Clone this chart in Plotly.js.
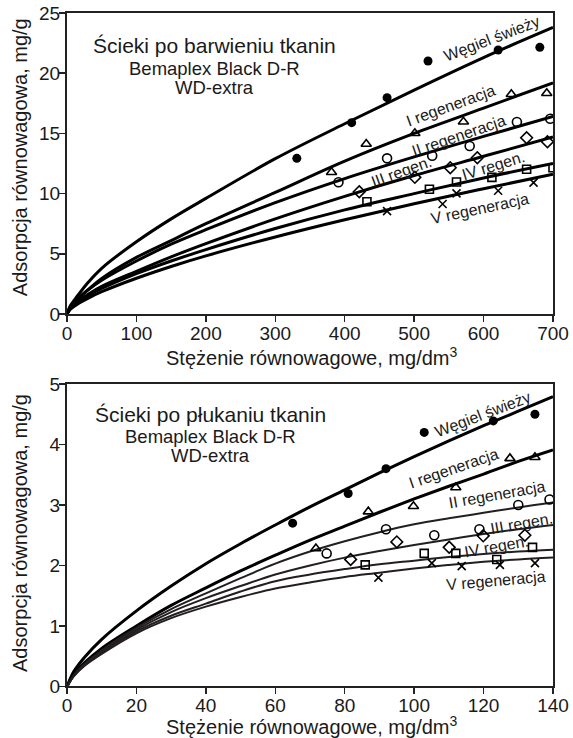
<!DOCTYPE html>
<html>
<head>
<meta charset="utf-8">
<script src="https://cdn.plot.ly/plotly-3.0.1.min.js"></script>
<style>html,body{margin:0;padding:0;background:#fff;}#chart{width:573px;height:738px;}</style>
</head>
<body>
<div id="chart"></div>
<script>
// ---------- Top chart: Ścieki po barwieniu tkanin ----------
const topCurveX = [0, 5, 15, 30, 50, 100, 150, 200, 300, 400, 500, 600, 700];
const topFreshCurve = [0, 0.7, 1.5, 2.6, 3.8, 6.0, 7.9, 9.6, 12.9, 15.8, 18.6, 21.3, 23.8];
const topReg1Curve  = [0, 0.55, 1.2, 2.0, 2.95, 4.7, 6.1, 7.5, 10.1, 12.7, 15.0, 17.1, 19.2];
const topReg2Curve  = [0, 0.6, 1.24, 1.98, 2.8, 4.4, 5.8, 7.0, 9.25, 11.25, 13.05, 14.75, 16.4];
const topReg3Curve  = [0, 0.5, 1.02, 1.62, 2.3, 3.55, 4.75, 5.85, 7.9, 9.77, 11.5, 13.1, 14.7];
const topReg4Curve  = [0, 0.48, 0.98, 1.52, 2.12, 3.35, 4.4, 5.35, 7.1, 8.65, 10.0, 11.3, 12.5];
const topReg5Curve  = [0, 0.4, 0.82, 1.3, 1.85, 2.97, 3.95, 4.83, 6.4, 7.83, 9.16, 10.41, 11.6];

const topFreshX = [331, 410, 461, 520, 621, 681];
const topFreshY = [12.93, 15.89, 17.97, 21.01, 21.93, 22.15];
const topReg1X = [381, 431, 501, 571, 640, 691];
const topReg1Y = [11.77, 14.12, 15.01, 15.97, 18.25, 18.33];
const topReg2X = [391, 461, 526, 580, 648, 696];
const topReg2Y = [10.94, 12.93, 13.15, 13.95, 15.95, 16.22];
const topReg3X = [421, 501, 552, 591, 662, 692];
const topReg3Y = [10.16, 11.35, 12.15, 12.98, 14.64, 14.31];
const topReg4X = [432, 522, 561, 612, 662, 700];
const topReg4Y = [9.33, 10.36, 10.96, 11.35, 12.02, 12.15];
const topReg5X = [461, 541, 561, 621, 672];
const topReg5Y = [8.55, 9.14, 10.02, 10.24, 10.91];

// ---------- Bottom chart: Ścieki po płukaniu tkanin ----------
const botCurveX = [0, 2, 5, 10, 20, 30, 40, 50, 60, 70, 80, 90, 100, 110, 120, 130, 140];
const botFreshCurve = [0, 0.25, 0.48, 0.78, 1.25, 1.66, 2.03, 2.36, 2.67, 2.97, 3.25, 3.53, 3.80, 4.06, 4.31, 4.55, 4.79];
const botReg1Curve  = [0, 0.2, 0.39, 0.63, 1.0, 1.34, 1.63, 1.91, 2.17, 2.42, 2.65, 2.88, 3.10, 3.31, 3.51, 3.72, 3.91];
const botReg2Curve  = [0, 0.19, 0.37, 0.6, 0.97, 1.28, 1.54, 1.79, 2.03, 2.23, 2.40, 2.55, 2.68, 2.78, 2.87, 2.96, 3.04];
const botReg3Curve  = [0, 0.18, 0.36, 0.58, 0.94, 1.23, 1.46, 1.66, 1.85, 2.0, 2.13, 2.24, 2.34, 2.43, 2.52, 2.60, 2.67];
const botReg4Curve  = [0, 0.18, 0.35, 0.56, 0.91, 1.17, 1.37, 1.57, 1.74, 1.85, 1.94, 2.02, 2.08, 2.14, 2.19, 2.23, 2.26];
const botReg5Curve  = [0, 0.17, 0.34, 0.54, 0.88, 1.13, 1.32, 1.48, 1.62, 1.72, 1.81, 1.88, 1.95, 2.01, 2.06, 2.10, 2.13];

const botFreshX = [65.0, 81.0, 91.9, 102.9, 122.8, 134.8];
const botFreshY = [2.70, 3.19, 3.60, 4.20, 4.39, 4.50];
const botReg1X = [71.7, 86.8, 99.8, 112.0, 127.6, 134.8];
const botReg1Y = [2.28, 2.89, 2.98, 3.29, 3.77, 3.79];
const botReg2X = [74.8, 91.9, 105.8, 118.8, 130.0, 139.0];
const botReg2Y = [2.20, 2.60, 2.50, 2.60, 3.00, 3.09];
const botReg3X = [81.7, 95.0, 110.1, 119.9, 131.9];
const botReg3Y = [2.10, 2.39, 2.30, 2.49, 2.50];
const botReg4X = [85.9, 102.9, 112.0, 123.8, 134.1];
const botReg4Y = [2.01, 2.20, 2.20, 2.10, 2.30];
const botReg5X = [89.7, 105.1, 113.7, 124.7, 134.8];
const botReg5Y = [1.80, 2.04, 1.99, 2.01, 2.04];

const curveLabels = ['Węgiel świeży', 'I regeneracja', 'II regeneracja', 'III regen.', 'IV regen.', 'V regeneracja'];
const topTitleLines = ['Ścieki po barwieniu tkanin', 'Bemaplex Black D-R', 'WD-extra'];
const botTitleLines = ['Ścieki po płukaniu tkanin', 'Bemaplex Black D-R', 'WD-extra'];
const xTitle = 'Stężenie równowagowe, mg/dm<sup>3</sup>';
const yTitle = 'Adsorpcja równowagowa, mg/g';

const FONT = 'Liberation Sans, Arial, Helvetica, sans-serif';
const INK = '#1a1a1a';

function curve(x, y, xa, ya, w, color) {
  return {x: x, y: y, xaxis: xa, yaxis: ya, type: 'scatter', mode: 'lines',
    line: {color: color || '#000', width: w, shape: 'spline', smoothing: 1}, hoverinfo: 'skip'};
}
function pts(x, y, xa, ya, sym, size, filled) {
  return {x: x, y: y, xaxis: xa, yaxis: ya, type: 'scatter', mode: 'markers',
    marker: {symbol: sym, size: size, color: '#000',
      line: {color: '#000', width: filled ? 0 : 1.6}}, hoverinfo: 'skip'};
}

const data = [
  curve(topCurveX, topFreshCurve, 'x', 'y', 3),
  curve(topCurveX, topReg1Curve, 'x', 'y', 3),
  curve(topCurveX, topReg2Curve, 'x', 'y', 3),
  curve(topCurveX, topReg3Curve, 'x', 'y', 3),
  curve(topCurveX, topReg4Curve, 'x', 'y', 3),
  curve(topCurveX, topReg5Curve, 'x', 'y', 3),
  pts(topFreshX, topFreshY, 'x', 'y', 'circle', 9, true),
  pts(topReg1X, topReg1Y, 'x', 'y', 'triangle-up-open', 9, false),
  pts(topReg2X, topReg2Y, 'x', 'y', 'circle-open', 9, false),
  pts(topReg3X, topReg3Y, 'x', 'y', 'diamond-open', 9, false),
  pts(topReg4X, topReg4Y, 'x', 'y', 'square-open', 8, false),
  pts(topReg5X, topReg5Y, 'x', 'y', 'x-thin-open', 8, false),

  curve(botCurveX, botFreshCurve, 'x2', 'y2', 3),
  curve(botCurveX, botReg1Curve, 'x2', 'y2', 3),
  curve(botCurveX, botReg2Curve, 'x2', 'y2', 2, '#231f20'),
  curve(botCurveX, botReg3Curve, 'x2', 'y2', 2, '#231f20'),
  curve(botCurveX, botReg4Curve, 'x2', 'y2', 2, '#231f20'),
  curve(botCurveX, botReg5Curve, 'x2', 'y2', 2, '#231f20'),
  pts(botFreshX, botFreshY, 'x2', 'y2', 'circle', 9, true),
  pts(botReg1X, botReg1Y, 'x2', 'y2', 'triangle-up-open', 9, false),
  pts(botReg2X, botReg2Y, 'x2', 'y2', 'circle-open', 9, false),
  pts(botReg3X, botReg3Y, 'x2', 'y2', 'diamond-open', 9, false),
  pts(botReg4X, botReg4Y, 'x2', 'y2', 'square-open', 8, false),
  pts(botReg5X, botReg5Y, 'x2', 'y2', 'x-thin-open', 8, false)
];

function axisBase(extra) {
  return Object.assign({
    showline: true, mirror: true, linecolor: '#222', linewidth: 2,
    ticks: 'outside', ticklen: 6, tickwidth: 1.5, tickcolor: '#222',
    ticklabelstandoff: -5,
    showgrid: false, zeroline: false, fixedrange: true,
    tickfont: {family: FONT, size: 19, color: INK}
  }, extra);
}

// label positions (data coords) and angles
const topLabelPos = [[612, 22.9, -21], [553, 17.3, -20], [565, 14.8, -19], [482, 11.8, -20], [615, 12.3, -17], [595, 8.8, -12]];
const botLabelPos = [[119.6, 4.50, -21], [111.2, 3.60, -19], [123.9, 3.18, -10], [130.8, 2.70, -10], [123.6, 2.32, -10], [123.6, 1.76, -5]];

const annotations = [];
curveLabels.forEach((t, i) => {
  annotations.push({xref: 'x', yref: 'y', x: topLabelPos[i][0], y: topLabelPos[i][1], text: t,
    textangle: topLabelPos[i][2], showarrow: false, font: {family: FONT, size: 16, color: INK}});
  annotations.push({xref: 'x2', yref: 'y2', x: botLabelPos[i][0], y: botLabelPos[i][1], text: t,
    textangle: botLabelPos[i][2], showarrow: false, font: {family: FONT, size: 16, color: INK}});
});
const topTitleY = [22.26, 20.39, 18.81];
const botTitleY = [4.49, 4.14, 3.81];
const titleSizes = [21, 18.5, 18.5];
topTitleLines.forEach((t, i) => {
  annotations.push({xref: 'x', yref: 'y', x: 212.4, y: topTitleY[i], text: t, showarrow: false,
    font: {family: FONT, size: titleSizes[i], color: INK}});
});
botTitleLines.forEach((t, i) => {
  annotations.push({xref: 'x2', yref: 'y2', x: 41.2, y: botTitleY[i], text: t, showarrow: false,
    font: {family: FONT, size: titleSizes[i], color: INK}});
});
// axis titles (paper coordinates)
const axisTitleFont = {family: FONT, size: 20, color: INK};
annotations.push({xref: 'paper', yref: 'paper', x: 0.503, y: 0.5176, xanchor: 'center', yanchor: 'middle',
  text: xTitle, showarrow: false, font: axisTitleFont});
annotations.push({xref: 'paper', yref: 'paper', x: 0.503, y: 0.0176, xanchor: 'center', yanchor: 'middle',
  text: xTitle, showarrow: false, font: axisTitleFont});
annotations.push({xref: 'paper', yref: 'paper', x: -0.0967, y: 0.787, xanchor: 'center', yanchor: 'middle',
  text: yTitle, textangle: -90, showarrow: false, font: axisTitleFont});
annotations.push({xref: 'paper', yref: 'paper', x: -0.0967, y: 0.2778, xanchor: 'center', yanchor: 'middle',
  text: yTitle, textangle: -90, showarrow: false, font: axisTitleFont});

const layout = {
  width: 573, height: 738,
  margin: {l: 67, r: 20, t: 0, b: 0},
  paper_bgcolor: '#fff', plot_bgcolor: '#fff',
  showlegend: false,
  font: {family: FONT, color: INK},
  xaxis: axisBase({domain: [0, 1], anchor: 'y', range: [0, 700], dtick: 100, tick0: 0}),
  yaxis: axisBase({domain: [0.5745, 0.9824], anchor: 'x', range: [0, 25], dtick: 5, tick0: 0}),
  xaxis2: axisBase({domain: [0, 1], anchor: 'y2', range: [0, 140], dtick: 20, tick0: 0}),
  yaxis2: axisBase({domain: [0.0698, 0.4797], anchor: 'x2', range: [0, 5], dtick: 1, tick0: 0}),
  annotations: annotations
};

Plotly.newPlot('chart', data, layout, {displayModeBar: false, staticPlot: true});
</script>
</body>
</html>
